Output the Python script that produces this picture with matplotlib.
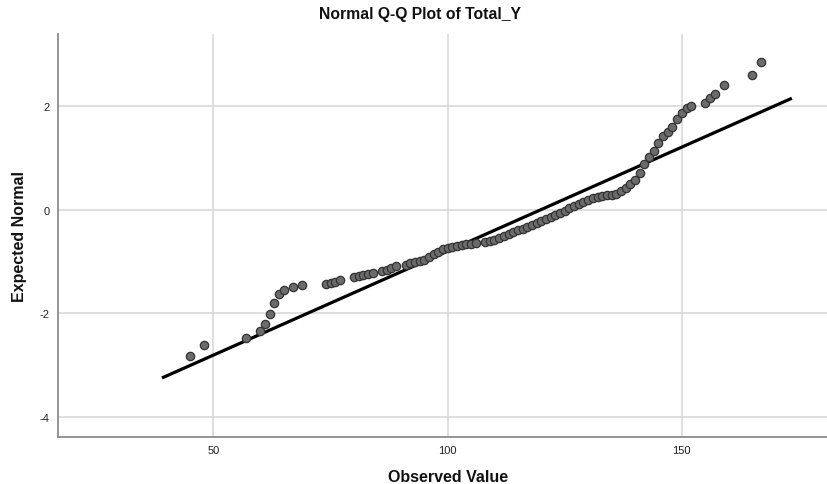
import matplotlib
matplotlib.use("Agg")
import matplotlib.pyplot as plt

plt.rcParams['font.family'] = ['Liberation Sans', 'DejaVu Sans']
plt.rcParams['axes.unicode_minus'] = False

# Observed scores and their expected normal values
observed = [45, 48, 57, 60, 61, 62, 63, 64, 65, 67, 69,
            74, 75, 76, 77, 80, 81, 82, 83, 84, 86, 87, 88, 89,
            91, 92, 93, 94, 95, 96, 97, 98, 99, 100, 101, 102, 103, 104, 105, 106,
            108, 109, 110, 111, 112, 113, 114, 115, 116, 117, 118, 119, 120,
            121, 122, 123, 124, 125, 126, 127, 128, 129, 130, 131, 132, 133,
            134, 135, 136, 137, 138, 139, 140, 141, 142, 143, 144, 145, 146,
            147, 148, 149, 150, 151, 152, 155, 156, 157, 159, 165, 167]
expected = [-2.83, -2.61, -2.47, -2.35, -2.20, -2.01, -1.80, -1.63, -1.55, -1.50, -1.46,
            -1.44, -1.42, -1.39, -1.35, -1.31, -1.29, -1.26, -1.25, -1.22, -1.19, -1.16, -1.12, -1.09,
            -1.06, -1.04, -1.02, -1.00, -0.97, -0.92, -0.86, -0.81, -0.77, -0.74, -0.72, -0.70, -0.69, -0.67, -0.66, -0.64,
            -0.63, -0.61, -0.58, -0.55, -0.51, -0.48, -0.44, -0.40, -0.37, -0.33, -0.29, -0.26, -0.22,
            -0.19, -0.15, -0.11, -0.06, -0.02, 0.03, 0.07, 0.11, 0.15, 0.19, 0.22, 0.25, 0.27,
            0.28, 0.29, 0.31, 0.35, 0.42, 0.49, 0.57, 0.70, 0.88, 1.02, 1.14, 1.28, 1.42,
            1.50, 1.60, 1.74, 1.86, 1.96, 2.00, 2.06, 2.15, 2.24, 2.41, 2.60, 2.84]

# Reference line endpoints (observed value, expected normal)
line_x = [39.0, 173.5]
line_y = [-3.25, 2.15]

x_ticks = [50, 100, 150]
y_ticks = [-4, -2, 0, 2]

fig = plt.figure(figsize=(8.27, 4.85), dpi=100)
ax = fig.add_axes([58 / 827, 1 - 438 / 485, 1 - 58 / 827, (438 - 35) / 485])

ax.set_xlim(16.8, 181.0)
ax.set_ylim(-4.39, 3.39)
ax.set_xticks(x_ticks)
ax.set_yticks(y_ticks)
ax.grid(True, color='#d9d9d9', linewidth=1.2)
ax.set_axisbelow(True)
ax.tick_params(length=0, labelsize=8, colors='#222222', pad=6)

for side in ('top', 'right'):
    ax.spines[side].set_visible(False)
for side in ('left', 'bottom'):
    ax.spines[side].set_color('#8c8c8c')
    ax.spines[side].set_linewidth(1.3)

ax.plot(line_x, line_y, color='black', linewidth=2.3, zorder=2, solid_capstyle='butt')
ax.scatter(observed, expected, s=36, facecolor='#6b6b6b', edgecolor='#333333',
           linewidth=0.9, zorder=3)

fig.text(420 / 827, 1 - 15 / 485, 'Normal Q-Q Plot of Total_Y', ha='center', va='center',
         fontsize=11.3, fontweight='bold', color='#111111')
fig.text(448 / 827, 1 - 478 / 485, 'Observed Value', ha='center', va='center',
         fontsize=11.5, fontweight='bold', color='#111111')
fig.text(20 / 827, 1 - 237 / 485, 'Expected Normal', ha='center', va='center',
         rotation=90, fontsize=11.5, fontweight='bold', color='#111111')

fig.savefig('out.png', dpi=100)
